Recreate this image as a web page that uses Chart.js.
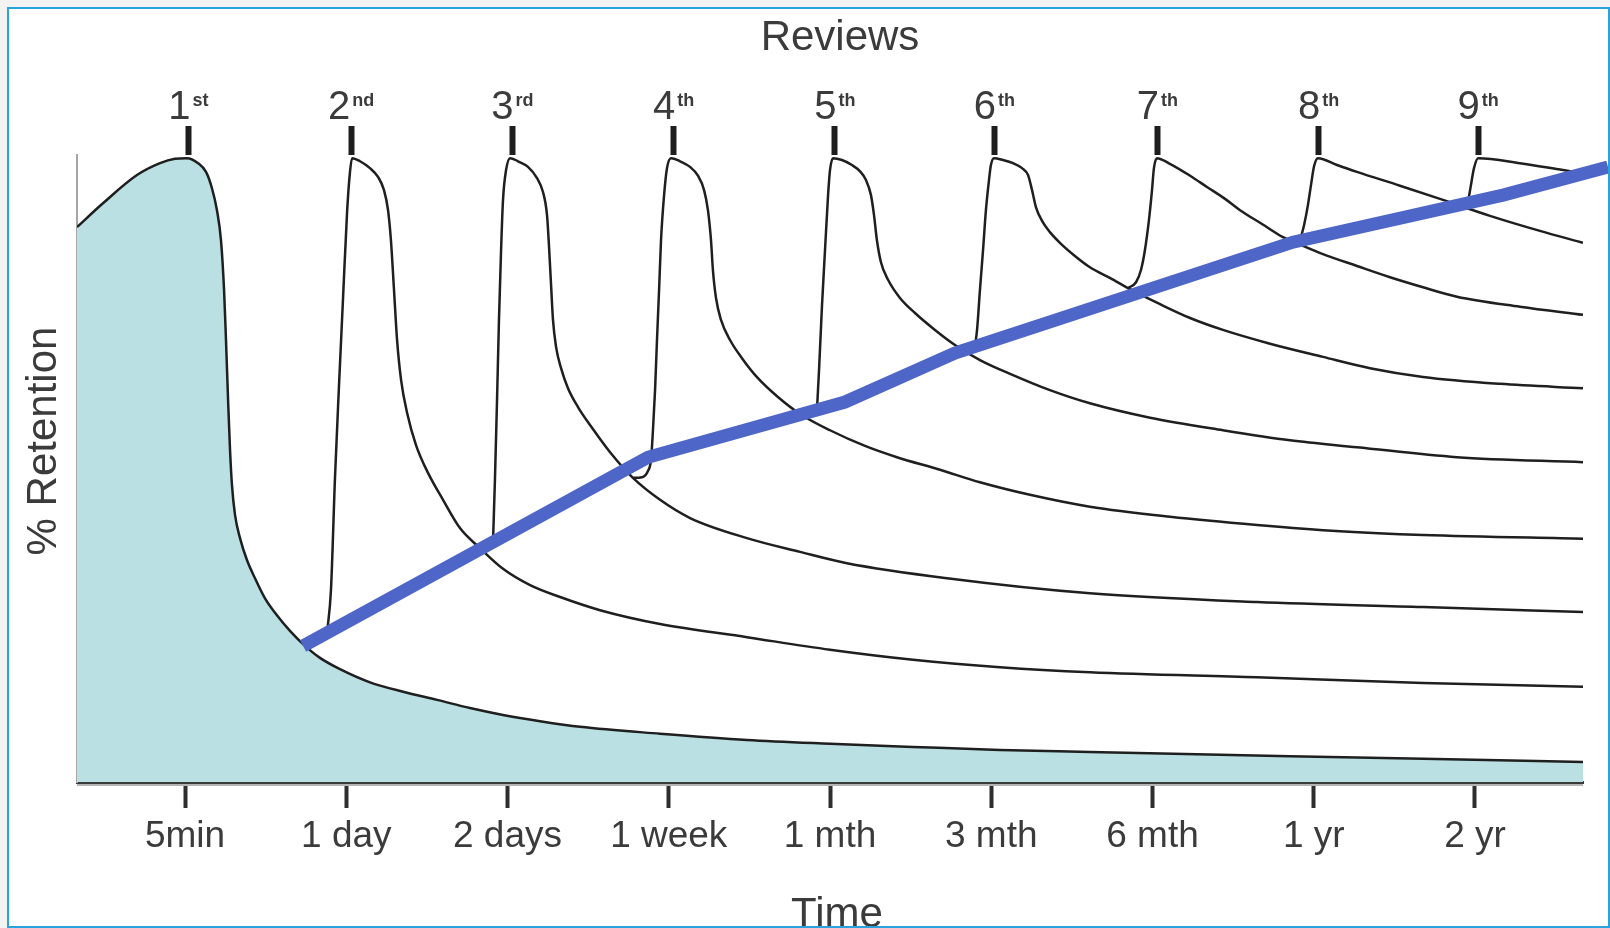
<!DOCTYPE html>
<html>
<head>
<meta charset="utf-8">
<title>Retention</title>
<script src="https://cdn.jsdelivr.net/npm/chart.js@4.4.1/dist/chart.umd.min.js"></script>
<style>
  html, body { margin:0; padding:0; background:#f3f3f3; }
  #wrap { position:relative; width:1610px; height:928px; }
</style>
</head>
<body>
<div id="wrap"><canvas id="retention-chart" width="1610" height="928"></canvas></div>
<script>
/* ============================================================
   Spaced repetition — forgetting curves after each review
   ============================================================ */

// time axis
const timeLabels = ['5min','1 day','2 days','1 week','1 mth','3 mth','6 mth','1 yr','2 yr'];
const timeAt     = [1, 2, 3, 4, 5, 6, 7, 8, 9];
const xMin = 0.33, xMax = 9.67;

// reviews (top axis)
const reviewNums = ['1','2','3','4','5','6','7','8','9'];
const reviewSup  = ['st','nd','rd','th','th','th','th','th','th'];
const reviewAt   = [1.02, 2.03, 3.03, 4.03, 5.03, 6.02, 7.03, 8.03, 9.02];

// % retention curves, [time, %]
const review1 = [[0.33,88.5],[0.491,92.3],[0.702,96.8],[0.845,98.7],[0.938,99.4],[1.012,99.5],[1.081,98.7],[1.13,97.3],[1.167,94.7],[1.198,91.2],[1.223,86.4],[1.242,78.5],[1.254,70.5],[1.267,60.9],[1.279,53.0],[1.291,47.4],[1.31,42.6],[1.341,38.9],[1.384,35.4],[1.434,32.5],[1.496,29.3],[1.564,26.8],[1.651,24.1],[1.732,22.0],[1.837,19.8],[1.961,18.0],[2.147,15.9],[2.352,14.4],[2.563,13.1],[2.767,11.8],[2.972,10.7],[3.202,9.7],[3.45,8.8],[3.946,7.7],[4.485,6.7],[5.0,6.1],[5.515,5.6],[6.054,5.1],[6.612,4.8],[7.853,4.1],[8.678,3.7],[9.67,3.2]];
const review2 = [[1.881,23.8],[1.905,30.6],[1.93,48.5],[1.955,63.3],[1.98,77.2],[2.005,90.9],[2.023,97.3],[2.036,99.5],[2.085,99.0],[2.147,97.9],[2.197,96.5],[2.234,94.4],[2.259,91.2],[2.277,86.4],[2.296,78.5],[2.315,70.5],[2.34,64.1],[2.377,58.9],[2.433,53.7],[2.507,49.3],[2.6,45.0],[2.705,40.5],[2.829,37.3],[2.972,34.0],[3.14,31.4],[3.326,29.5],[3.574,27.4],[3.946,25.2],[4.485,23.1],[5.0,21.1],[5.515,19.5],[6.054,18.3],[6.612,17.5],[7.648,16.7],[8.678,15.8],[9.67,15.2]];
const review3 = [[2.91,38.3],[2.922,48.2],[2.935,60.9],[2.947,73.7],[2.96,84.8],[2.972,92.8],[2.991,97.6],[3.016,99.5],[3.065,99.0],[3.127,98.1],[3.183,96.3],[3.22,94.1],[3.245,90.4],[3.257,85.6],[3.27,79.3],[3.282,73.7],[3.301,69.4],[3.332,66.0],[3.375,62.8],[3.437,59.8],[3.524,56.5],[3.636,52.6],[3.778,48.5],[3.946,45.0],[4.132,42.1],[4.485,38.9],[4.814,36.7],[5.105,34.9],[5.726,32.5],[6.612,30.1],[7.648,28.7],[8.678,27.9],[9.67,27.1]];
const review4 = [[3.778,48.5],[3.834,48.6],[3.871,49.6],[3.89,51.4],[3.902,56.1],[3.915,62.5],[3.927,70.5],[3.94,78.5],[3.952,86.4],[3.971,93.6],[3.989,97.9],[4.014,99.5],[4.07,99.0],[4.132,98.1],[4.181,96.7],[4.219,94.4],[4.243,91.2],[4.262,86.4],[4.274,81.6],[4.293,77.2],[4.324,73.7],[4.38,70.5],[4.454,67.6],[4.553,64.4],[4.677,61.4],[4.814,58.7],[5.0,56.1],[5.217,53.6],[5.415,51.8],[5.682,49.8],[5.93,47.8],[6.24,45.8],[6.612,43.9],[7.109,42.3],[7.648,41.0],[8.163,40.0],[8.678,39.4],[9.67,38.8]];
const review5 = [[4.919,59.3],[4.932,65.7],[4.95,75.8],[4.969,84.8],[4.988,93.6],[5.0,97.6],[5.019,99.5],[5.074,99.2],[5.136,98.4],[5.186,97.4],[5.223,96.0],[5.254,93.6],[5.273,90.4],[5.291,86.4],[5.316,82.9],[5.36,80.1],[5.434,77.2],[5.527,74.8],[5.651,72.1],[5.775,69.7],[5.93,67.3],[6.135,64.9],[6.364,62.5],[6.612,60.4],[6.985,58.1],[7.437,56.1],[7.853,54.5],[8.268,53.4],[8.888,51.8],[9.67,51.0]];
const review6 = [[5.899,69.5],[5.912,72.1],[5.93,78.5],[5.949,84.8],[5.967,91.2],[5.986,96.0],[5.998,98.4],[6.017,99.5],[6.073,99.2],[6.135,98.7],[6.191,97.9],[6.228,96.8],[6.253,94.4],[6.277,91.7],[6.315,89.5],[6.364,87.7],[6.426,86.0],[6.519,83.9],[6.612,82.1],[6.736,80.4],[6.86,78.6],[7.047,76.2],[7.233,74.0],[7.437,72.1],[7.729,69.9],[8.057,67.8],[8.349,66.0],[8.678,64.6],[9.155,63.5],[9.67,62.8]];
const review7 = [[6.848,78.8],[6.898,79.7],[6.929,81.7],[6.953,84.8],[6.978,89.6],[6.997,94.4],[7.009,97.9],[7.028,99.5],[7.108,98.6],[7.233,96.7],[7.338,94.9],[7.45,93.0],[7.543,91.2],[7.679,89.0],[7.809,86.9],[7.933,85.5],[8.057,84.2],[8.268,82.3],[8.473,80.5],[8.678,78.9],[8.888,77.4],[9.279,75.8],[9.67,74.5]];
const review8 = [[7.915,86.4],[7.94,88.8],[7.964,92.0],[7.983,95.2],[8.002,98.2],[8.026,99.5],[8.144,98.4],[8.268,97.3],[8.535,95.1],[8.783,93.0],[9.093,90.3],[9.403,87.9],[9.67,86.0]];
const review9 = [[8.957,92.5],[8.975,95.2],[8.994,97.9],[9.019,99.5],[9.279,98.7],[9.546,97.6],[9.67,97.1]];
const curves  = [review1, review2, review3, review4, review5, review6, review7, review8, review9];

// retention at each review (blue line)
const spacing = [[1.732,21.7],[3.871,51.8],[5.093,60.6],[5.775,68.4],[7.871,86.1],[9.174,93.6],[9.825,98.1]];

const FONT = "'Liberation Sans', Arial, Helvetica, sans-serif";
const textCol = '#3b3b3b';
Chart.defaults.font.family = FONT;

const toXY = pts => pts.map(([x, y]) => ({ x, y }));

const datasets = curves.map((pts, i) => ({
  label: 'Review ' + (i + 1),
  data: toXY(pts),
  borderColor: '#1f1f1f',
  borderWidth: 2.5,
  pointRadius: 0,
  cubicInterpolationMode: 'monotone',
  fill: i === 0 ? 'origin' : false,
  backgroundColor: i === 0 ? '#bae0e3' : 'transparent',
  order: i === 0 ? 10 : 5
}));
datasets.push({
  label: 'Retention at review',
  data: toXY(spacing),
  borderColor: '#4e66c8',
  borderWidth: 13,
  pointRadius: 0,
  tension: 0,
  fill: false,
  clip: false,
  order: 0
});

// background, frame and the free texts
const paperPlugin = {
  id: 'paper',
  beforeDraw(chart) {
    const c = chart.ctx;
    c.save();
    c.fillStyle = '#f3f3f3'; c.fillRect(0, 0, chart.width, chart.height);
    c.fillStyle = '#ffffff'; c.fillRect(8, 8, chart.width - 8, chart.height - 8);
    c.restore();
  },
  afterDraw(chart) {
    const c = chart.ctx;
    const top = chart.scales.xTop;
    const area = chart.chartArea;
    c.save();
    // faint shadow under the time axis
    c.strokeStyle = '#b4b4b4'; c.lineWidth = 2;
    c.beginPath(); c.moveTo(area.left, area.bottom + 3); c.lineTo(area.right, area.bottom + 3); c.stroke();

    c.fillStyle = textCol;
    c.textAlign = 'center';
    c.textBaseline = 'alphabetic';
    c.font = '42px ' + FONT;
    c.fillText('Reviews', 840, 50);
    c.fillText('Time', 837, 927);
    c.save();
    c.translate(56, 441); c.rotate(-Math.PI / 2);
    c.fillText('% Retention', 0, 0);
    c.restore();

    c.textAlign = 'left';
    reviewNums.forEach((n, i) => {
      const x = top.getPixelForValue(reviewAt[i]);
      c.font = '40px ' + FONT;
      const w1 = c.measureText(n).width;
      c.font = 'bold 18px ' + FONT;
      const w2 = c.measureText(reviewSup[i]).width;
      const x0 = x - (w1 + 2 + w2) / 2;
      c.font = '40px ' + FONT;
      c.fillText(n, x0, 119);
      c.font = 'bold 18px ' + FONT;
      c.fillText(reviewSup[i], x0 + w1 + 2, 106);
    });

    c.strokeStyle = '#29a3dd';
    c.lineWidth = 2;
    c.strokeRect(8, 8, chart.width - 9, chart.height - 9);
    c.restore();
  }
};

const ctx = document.getElementById('retention-chart');
const retentionChart = new Chart(ctx, {
  type: 'line',
  data: { datasets },
  plugins: [paperPlugin],
  options: {
    responsive: false,
    animation: false,
    layout: { padding: { left: 77, right: 27, top: 0, bottom: 0 } },
    plugins: { legend: { display: false }, tooltip: { enabled: false } },
    scales: {
      x: {
        type: 'linear', position: 'bottom', min: xMin, max: xMax,
        afterBuildTicks: s => { s.ticks = timeAt.map(v => ({ value: v })); },
        afterFit: s => { s.height = 146; },
        grid: { drawOnChartArea: false, drawTicks: true, tickLength: 26, tickWidth: 4, tickColor: '#2e2e2e' },
        border: { display: true, color: '#3a3a3a', width: 3 },
        ticks: { padding: 7, color: textCol, font: { size: 37 }, autoSkip: false, maxRotation: 0,
                 callback: (v, i) => timeLabels[i] }
      },
      xTop: {
        type: 'linear', position: 'top', axis: 'x', min: xMin, max: xMax,
        afterBuildTicks: s => { s.ticks = reviewAt.map(v => ({ value: v })); },
        afterFit: s => { s.height = 155; },
        grid: { drawOnChartArea: false, drawTicks: true, tickLength: 29, tickWidth: 6, tickColor: '#1e1e1e' },
        border: { display: false },
        ticks: { display: false }
      },
      y: {
        min: 0, max: 100,
        afterFit: s => { s.width = 0; },
        grid: { display: false },
        border: { display: true, color: '#a6a6a6', width: 2 },
        ticks: { display: false }
      }
    }
  }
});
</script>
</body>
</html>
